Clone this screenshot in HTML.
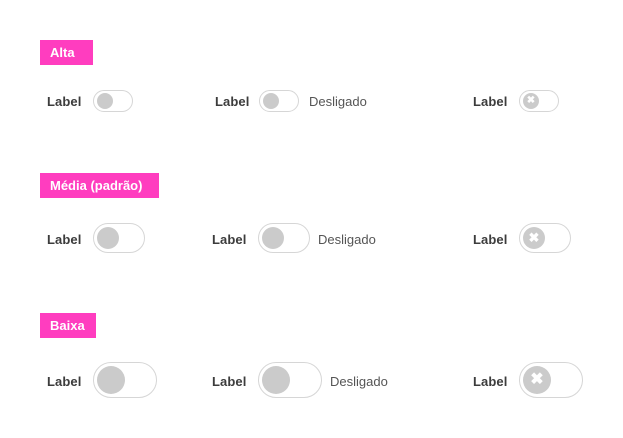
<!DOCTYPE html>
<html><head><meta charset="utf-8"><style>
body{margin:0;width:623px;height:438px;background:#fff;position:relative;font-family:"Liberation Sans",sans-serif;overflow:hidden}
.tag{position:absolute;left:40px;background:#ff3dbf;color:#fff;font-weight:bold;font-size:13px;line-height:25px;padding-left:10px;box-sizing:border-box}
.l{position:absolute;font-size:13px;color:#3c3c3c;font-weight:bold;letter-spacing:0.1px}
.d{position:absolute;font-size:13px;color:#555}
.t{position:absolute;border:1px solid #d6d6d6;background:#fff;box-sizing:border-box}
.k{position:absolute;background:#cbcbcb;border-radius:50%;color:#fff;font-weight:bold;text-align:center}
</style></head><body>
<div class="tag" style="top:40px;width:53px;height:25px">Alta</div>
<div class="tag" style="top:173px;width:119px;height:25px">Média (padrão)</div>
<div class="tag" style="top:313px;width:56px;height:25px">Baixa</div>

<div class="l" style="left:47px;top:94px">Label</div>
<div class="t" style="left:93px;top:90px;width:40px;height:22px;border-radius:11px"><div class="k" style="left:3px;top:2px;width:16px;height:16px"></div></div>
<div class="l" style="left:215px;top:94px">Label</div>
<div class="t" style="left:259px;top:90px;width:40px;height:22px;border-radius:11px"><div class="k" style="left:3px;top:2px;width:16px;height:16px"></div></div>
<div class="d" style="left:309px;top:94px">Desligado</div>
<div class="l" style="left:473px;top:94px">Label</div>
<div class="t" style="left:519px;top:90px;width:40px;height:22px;border-radius:11px"><div class="k" style="left:3px;top:2px;width:16px;height:16px;font-size:10px;line-height:16px">✖</div></div>

<div class="l" style="left:47px;top:232px">Label</div>
<div class="t" style="left:93px;top:223px;width:52px;height:30px;border-radius:15px"><div class="k" style="left:3px;top:3px;width:22px;height:22px"></div></div>
<div class="l" style="left:212px;top:232px">Label</div>
<div class="t" style="left:258px;top:223px;width:52px;height:30px;border-radius:15px"><div class="k" style="left:3px;top:3px;width:22px;height:22px"></div></div>
<div class="d" style="left:318px;top:232px">Desligado</div>
<div class="l" style="left:473px;top:232px">Label</div>
<div class="t" style="left:519px;top:223px;width:52px;height:30px;border-radius:15px"><div class="k" style="left:3px;top:3px;width:22px;height:22px;font-size:13px;line-height:22px">✖</div></div>

<div class="l" style="left:47px;top:374px">Label</div>
<div class="t" style="left:93px;top:362px;width:64px;height:36px;border-radius:18px"><div class="k" style="left:3px;top:3px;width:28px;height:28px"></div></div>
<div class="l" style="left:212px;top:374px">Label</div>
<div class="t" style="left:258px;top:362px;width:64px;height:36px;border-radius:18px"><div class="k" style="left:3px;top:3px;width:28px;height:28px"></div></div>
<div class="d" style="left:330px;top:374px">Desligado</div>
<div class="l" style="left:473px;top:374px">Label</div>
<div class="t" style="left:519px;top:362px;width:64px;height:36px;border-radius:18px"><div class="k" style="left:3px;top:3px;width:28px;height:28px;font-size:16px;line-height:28px">✖</div></div>
</body></html>
